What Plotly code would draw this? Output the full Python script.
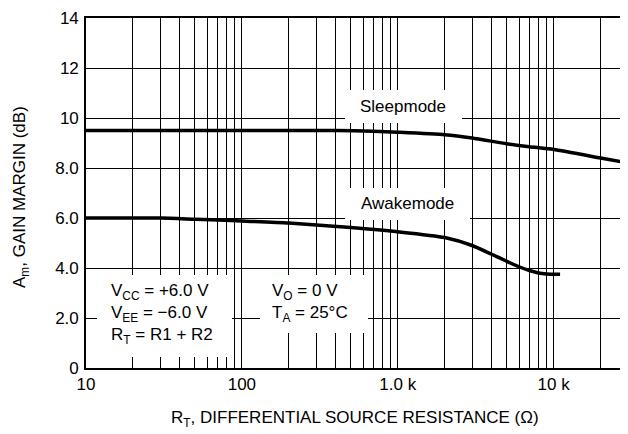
import plotly.graph_objects as go

# ---- data ----
sleep_r = [10, 30, 100, 200, 400, 700, 1000, 2000, 3000, 5000, 7000, 10000, 20000, 30000]
sleep_gain = [9.5, 9.5, 9.5, 9.5, 9.5, 9.47, 9.43, 9.33, 9.2, 8.97, 8.85, 8.74, 8.4, 8.2]

awake_r = [10, 30, 50, 100, 200, 500, 1000, 2000, 3000, 4000, 5000, 6000, 7000, 8000, 9000, 11000]
awake_gain = [6.0, 6.0, 5.95, 5.88, 5.8, 5.62, 5.45, 5.22, 4.9, 4.55, 4.27, 4.05, 3.9, 3.8, 3.76, 3.75]

x_tickvals = [10, 100, 1000, 10000]
x_ticktext = ["10", "100", "1.0 k", "10 k"]
x_minor = [m * d for d in (10, 100, 1000, 10000) for m in range(2, 10)]
y_tickvals = [0, 2, 4, 6, 8, 10, 12, 14]
y_ticktext = ["0", "2.0", "4.0", "6.0", "8.0", "10", "12", "14"]

FONT = "Liberation Sans"
# page has an 8px body margin; figure sized so the plot area sits at page x 86..628, y 18..368
W, H = 620, 426
ML, MR, MT, MB = 78, 0, 10, 66
PL, PR, PT, PB = 86, 628, 18, 368


def px(p):
    return (p - PL) / (PR - PL)


def py(p):
    return (PB - p) / (PB - PT)


fig = go.Figure()
fig.add_trace(go.Scatter(x=sleep_r, y=sleep_gain, mode="lines",
                         line=dict(color="black", width=3.5, shape="spline", smoothing=0.6),
                         showlegend=False, hoverinfo="skip"))
fig.add_trace(go.Scatter(x=awake_r, y=awake_gain, mode="lines",
                         line=dict(color="black", width=3.5, shape="spline", smoothing=0.6),
                         showlegend=False, hoverinfo="skip"))

# white boxes behind labels
boxes = [(345, 90, 462, 123), (345, 188, 470, 220), (97, 275, 232, 357), (260, 275, 368, 333)]
for x0, y0, x1, y1 in boxes:
    fig.add_shape(type="rect", xref="paper", yref="paper",
                  x0=px(x0), x1=px(x1), y0=py(y1), y1=py(y0),
                  fillcolor="white", line=dict(width=0), layer="above")

tf = dict(family=FONT, size=17, color="black")
fig.add_annotation(text="Sleepmode", xref="paper", yref="paper", x=px(403), y=py(106),
                   showarrow=False, font=tf, xanchor="center", yanchor="middle")
fig.add_annotation(text="Awakemode", xref="paper", yref="paper", x=px(407), y=py(204),
                   showarrow=False, font=tf, xanchor="center", yanchor="middle")
fig.add_annotation(text="V<sub>CC</sub> = +6.0 V<br>V<sub>EE</sub> = \u22126.0 V<br>R<sub>T</sub> = R1 + R2",
                   xref="paper", yref="paper", x=px(109), y=py(314), align="left",
                   showarrow=False, font=tf, xanchor="left", yanchor="middle")
fig.add_annotation(text="V<sub>O</sub> = 0 V<br>T<sub>A</sub> = 25\u00b0C",
                   xref="paper", yref="paper", x=px(270), y=py(303), align="left",
                   showarrow=False, font=tf, xanchor="left", yanchor="middle")

# axis titles
fig.add_annotation(text="R<sub>T</sub>, DIFFERENTIAL SOURCE RESISTANCE (\u03a9)",
                   xref="paper", yref="paper", x=px(355), y=py(419),
                   showarrow=False, font=tf, xanchor="center", yanchor="middle")
fig.add_annotation(text="A<sub>m</sub>, GAIN MARGIN (dB)", textangle=-90,
                   xref="paper", yref="paper", x=px(21), y=py(197),
                   showarrow=False, font=tf, xanchor="center", yanchor="middle")

fig.update_xaxes(type="log", range=[1, 4.4771], tickvals=x_tickvals, ticktext=x_ticktext,
                 showgrid=True, gridcolor="black", gridwidth=1.3,
                 minor=dict(tickvals=x_minor, showgrid=True, gridcolor="black", gridwidth=1.3, ticks=""),
                 showline=True, linecolor="black", linewidth=1.6, mirror=True,
                 ticks="", zeroline=False, tickfont=tf)
fig.update_yaxes(range=[0, 14], tickvals=y_tickvals, ticktext=y_ticktext,
                 showgrid=True, gridcolor="black", gridwidth=1.3,
                 showline=True, linecolor="black", linewidth=1.6, mirror=True,
                 ticks="", zeroline=False, tickfont=tf, ticklabelstandoff=2)

fig.update_layout(width=W, height=H, margin=dict(l=ML, r=MR, t=MT, b=MB, autoexpand=False),
                  paper_bgcolor="white", plot_bgcolor="white",
                  font=dict(family=FONT, size=17, color="black"))

fig.write_html("out.html")
